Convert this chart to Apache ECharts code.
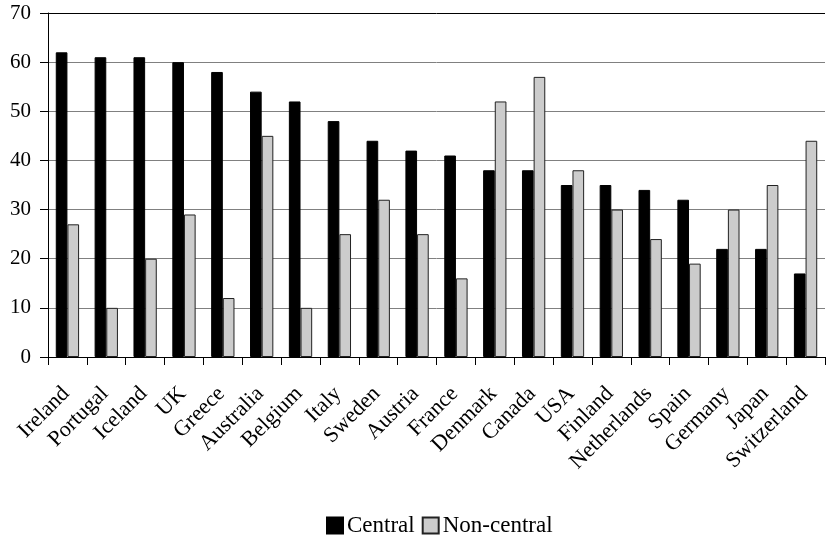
<!DOCTYPE html>
<html><head><meta charset="utf-8">
<script src="https://cdn.jsdelivr.net/npm/echarts@6/dist/echarts.min.js"></script>
<style>html,body{margin:0;padding:0;background:#fff}#c{width:826px;height:542px}</style>
</head><body><div id="c"></div>
<script>
var categories = ['Ireland','Portugal','Iceland','UK','Greece','Australia','Belgium','Italy','Sweden','Austria','France','Denmark','Canada','USA','Finland','Netherlands','Spain','Germany','Japan','Switzerland'];
var central = [62,61,61,60,58,54,52,48,44,42,41,38,38,35,35,34,32,22,22,17];
var nonCentral = [27,10,20,29,12,45,10,25,32,25,16,52,57,38,30,24,19,30,35,44];
var yTicks = [0,10,20,30,40,50,60,70];

var font = 'Liberation Serif';
var chart = echarts.init(document.getElementById('c'));
chart.setOption({
  animation: false,
  grid: {left: 48, right: 1, top: 13, bottom: 185},
  legend: {
    top: 514, left: 326, padding: 0, itemWidth: 16, itemHeight: 16, itemGap: 7,
    icon: 'rect',
    textStyle: {fontFamily: font, fontSize: 23, color: '#000', padding: [0, 0, 0, -1]},
    data: ['Central','Non-central']
  },
  xAxis: {
    type: 'category', data: categories,
    axisLine: {lineStyle: {color: '#000', width: 1}},
    axisTick: {show: true, length: 8, lineStyle: {color: '#000'}},
    axisLabel: {rotate: 45, interval: 0, fontFamily: font, fontSize: 22, color: '#000', margin: 32, padding: [0, 2, 0, 0]}
  },
  yAxis: {
    type: 'value', min: yTicks[0], max: yTicks[yTicks.length-1], interval: 10,
    axisLine: {show: true, lineStyle: {color: '#000'}},
    axisTick: {show: true, length: 8, lineStyle: {color: '#000'}},
    axisLabel: {fontFamily: font, fontSize: 21, color: '#000', margin: 17},
    splitLine: {show: true, lineStyle: {color: ['#808080','#808080','#808080','#808080','#808080','#808080','#808080','#000'], width: 1}}
  },
  series: [
    {name: 'Central', type: 'bar', data: central, barGap: '0%', barCategoryGap: '40%',
     itemStyle: {color: '#000', borderColor: '#000', borderWidth: 1}},
    {name: 'Non-central', type: 'bar', data: nonCentral,
     itemStyle: {color: '#cccccc', borderColor: '#222', borderWidth: 1}}
  ]
});
</script></body></html>
